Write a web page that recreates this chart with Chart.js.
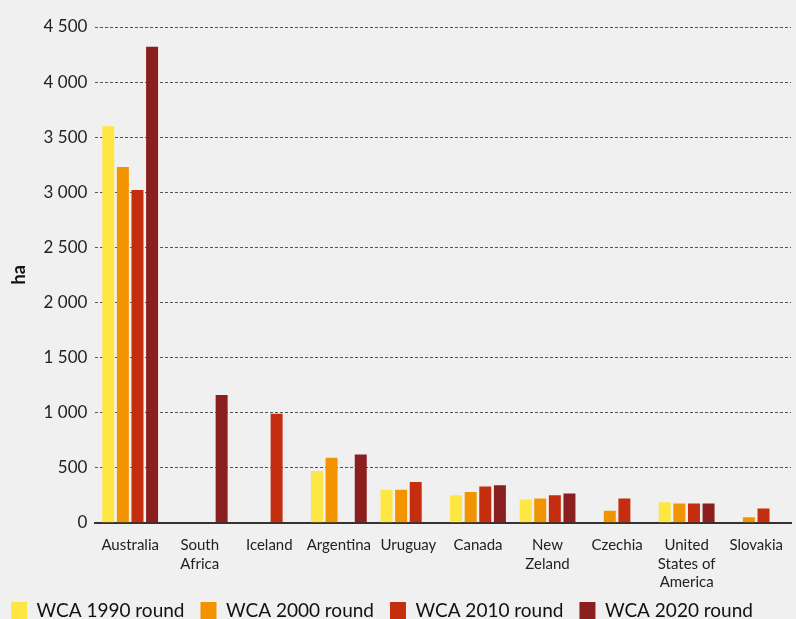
<!DOCTYPE html>
<html>
<head>
<meta charset="utf-8">
<script src="https://cdn.jsdelivr.net/npm/chart.js@4"></script>
<style>
html,body{margin:0;padding:0;background:#f0f0f0;}
#wrap{width:796px;height:619px;position:relative;}
</style>
</head>
<body>
<div id="wrap"><canvas id="c" width="796" height="619"></canvas></div>
<script>
const categories = ["Australia", ["South","Africa"], "Iceland", "Argentina", "Uruguay", "Canada", ["New","Zeland"], "Czechia", ["United","States of","America"], "Slovakia"];
const seriesNames = ["WCA 1990 round", "WCA 2000 round", "WCA 2010 round", "WCA 2020 round"];
const wca1990 = [3600, null, null, 470, 300, 250, 210, null, 185, null];
const wca2000 = [3230, null, null, 590, 300, 280, 220, 110, 175, 50];
const wca2010 = [3020, null, 990, null, 370, 330, 250, 220, 175, 130];
const wca2020 = [4320, 1160, null, 620, null, 340, 265, null, 175, null];
const colors = ["#FFE743", "#F29400", "#C42D0D", "#8B1E1E"];
const yTicks = [0, 500, 1000, 1500, 2000, 2500, 3000, 3500, 4000, 4500];

const FONT = "Lato, 'Open Sans', sans-serif";
const seriesData = [wca1990, wca2000, wca2010, wca2020];

const unclipLabels = {
  id: 'unclipLabels',
  afterLayout(chart) {
    const x = chart.scales.x;
    x.bottom += 30;
  }
};

new Chart(document.getElementById('c'), {
  type: 'bar',
  data: {
    labels: categories,
    datasets: seriesData.map((d, i) => ({
      label: seriesNames[i],
      data: d,
      backgroundColor: colors[i],
      borderWidth: 0,
      categoryPercentage: 0.84,
      barPercentage: 0.82
    }))
  },
  plugins: [unclipLabels],
  options: {
    responsive: false,
    animation: false,
    devicePixelRatio: 1,
    layout: { padding: { top: 27, right: 0, left: -5, bottom: -11 } },
    plugins: {
      legend: {
        position: 'bottom',
        align: 'start',
        labels: {
          font: { family: FONT, size: 19 },
          color: '#111',
          boxWidth: 16,
          boxHeight: 17,
          padding: 16
        }
      },
      tooltip: { enabled: false }
    },
    scales: {
      x: {
        grid: { display: false, drawTicks: false },
        border: { display: true, color: '#333', width: 2 },
        afterFit: (axis) => { axis.height -= 20; },
        ticks: {
          font: { family: FONT, size: 15, lineHeight: 1.25 },
          color: '#222',
          padding: 13,
          maxRotation: 0,
          autoSkip: false
        }
      },
      y: {
        min: 0,
        max: 4500,
        afterBuildTicks: (axis) => { axis.ticks = yTicks.map(v => ({ value: v })); },
        grid: {
          color: (ctx) => ctx.tick && ctx.tick.value === 0 ? 'rgba(0,0,0,0)' : '#555',
          lineWidth: 1,
          drawTicks: false
        },
        border: { display: false, dash: [3, 2] },
        title: {
          display: true,
          text: 'ha',
          font: { family: FONT, size: 18, weight: 'bold' },
          color: '#111',
          padding: { top: 13, bottom: 6 }
        },
        ticks: {
          font: { family: FONT, size: 17 },
          color: '#222',
          padding: 8,
          callback: (v) => String(v).replace(/\B(?=(\d{3})+(?!\d))/g, ' ')
        }
      }
    }
  }
});
</script>
</body>
</html>
